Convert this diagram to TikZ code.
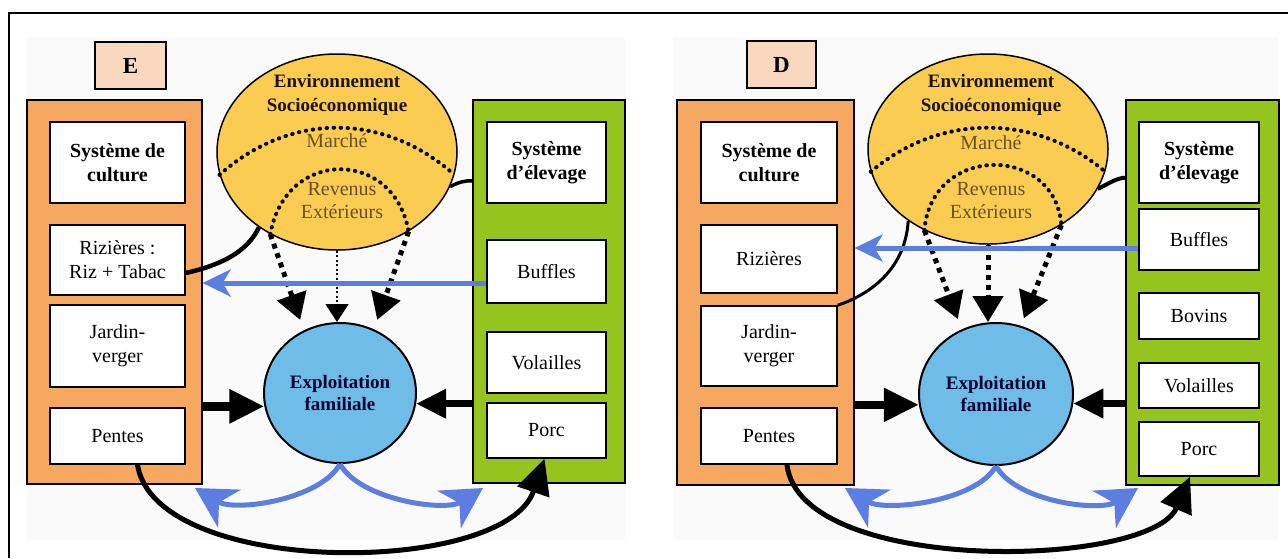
\documentclass[tikz,border=0pt]{standalone}
\usepackage{fontspec}
\setmainfont{Liberation Serif}
\usetikzlibrary{arrows.meta,shapes.geometric}

\definecolor{orangecult}{RGB}{246,168,96}
\definecolor{vertelev}{RGB}{150,196,30}
\definecolor{jauneenv}{RGB}{250,204,82}
\definecolor{bleuexpl}{RGB}{112,188,232}
\definecolor{peche}{RGB}{250,216,192}
\definecolor{bleuflux}{RGB}{92,126,224}
\definecolor{brunmarche}{RGB}{105,80,35}
\definecolor{fondgris}{RGB}{250,250,250}

\begin{document}
\begin{tikzpicture}[x=1pt, y=-1pt,
	boite/.style={draw, line width=1.6pt, fill=white, align=center, inner sep=0pt, font=\fontsize{20}{24}\selectfont},
	boite gras/.style={boite, font=\fontsize{20}{24}\selectfont\bfseries},
	panneau/.style={draw, line width=1.2pt, inner sep=0pt},
	lettre/.style={draw, line width=1.8pt, fill=peche, inner sep=0pt, minimum height=47pt, font=\fontsize{23}{24}\selectfont\bfseries},
	rond/.style={ellipse, draw, inner sep=0pt},
	titre/.style={align=center, text=black!85!brown, font=\fontsize{19}{24}\selectfont\bfseries},
	texte brun/.style={align=center, text=brunmarche, font=\fontsize{20}{23}\selectfont},
	pointille/.style={line width=4pt, line cap=round, dash pattern=on 0.5pt off 6.5pt},
	gros pointille/.style={line width=5pt, dash pattern=on 5pt off 5pt, -{Triangle[length=26pt,width=30pt]}},
	fin pointille/.style={line width=1.8pt, dash pattern=on 2pt off 2.5pt, -{Triangle[length=18pt,width=23pt]}},
	lien/.style={line width=4.5pt},
	entree/.style={line width=#1, -{Triangle[length=35pt,width=32pt]}},
	sortie/.style={line width=#1, -{Triangle[length=30pt,width=28pt]}},
	flux/.style={draw=bleuflux, line width=5pt, -{Stealth[length=28pt,width=27pt,inset=8pt]}},
	flux bas/.style={draw=bleuflux, line width=5pt, -{Stealth[length=40pt,width=44pt,inset=12pt]}},
	retour/.style={line width=5pt, -{Triangle[length=35pt,width=33pt]}}]
	\useasboundingbox (0,0) rectangle (1288,558);
	
	% 背景与外框
	\fill[fondgris] (27,37) rectangle (625,540);
	\fill[fondgris] (673,37) rectangle (1278,540);
	\draw[line width=1.5pt] (9,558) -- (9,13) -- (1288,13);
	
	% ===== E =====
	\node[lettre, minimum width=71pt] (eLettre) at (130.5,65.5) {E};
	\node[panneau, fill=orangecult, minimum width=175pt, minimum height=384pt] (eGauche) at (114.5,292) {};
	\node[panneau, fill=vertelev, minimum width=152pt, minimum height=383pt] (eDroite) at (549,291.5) {};
	
	\node[boite gras, minimum width=135pt, minimum height=81pt] (eCult) at (117.5,162.5) {Système de\\culture};
	\node[boite, minimum width=135pt, minimum height=70pt] (eRiz) at (117.5,260) {Rizières :\\Riz + Tabac};
	\node[boite, minimum width=135pt, minimum height=82pt] (eJard) at (117.5,346) {Jardin-\\verger};
	\node[boite, minimum width=135pt, minimum height=56pt] (ePent) at (117.5,436) {Pentes};
	
	\node[boite gras, minimum width=119pt, minimum height=81pt] (eElev) at (546.5,162.5) {Système\\d’élevage};
	\node[boite, minimum width=119pt, minimum height=63pt] (eBuf) at (546.5,271.5) {Buffles};
	\node[boite, minimum width=119pt, minimum height=61pt] (eVol) at (546.5,362.5) {Volailles};
	\node[boite, minimum width=119pt, minimum height=55pt] (ePorc) at (546.5,430.5) {Porc};
	
	% 社会经济环境
	\node[rond, fill=jauneenv, line width=1.5pt, minimum width=240pt, minimum height=196pt] (eEnv) at (337,152) {};
	\node[titre] (eEnvTxt) at (337,95) {Environnement\\Socioéconomique};
	\node[texte brun] (eMarche) at (337,141) {Marché};
	\node[texte brun] (eRevenus) at (342,201) {Revenus\\Extérieurs};
	\draw[pointille] (eEnv.191) .. controls (290,112) and (384,112) .. (eEnv.349);
	\draw[pointille] (eEnv.231) .. controls (285,148) and (394,148) .. (eEnv.312);
	
	\node[rond, fill=bleuexpl, line width=2pt, minimum width=152pt, minimum height=140pt, align=center,
		text=black!80!blue, font=\fontsize{19}{22}\selectfont\bfseries] (eExpl) at (340,393) {Exploitation\\familiale};
	
	% 连接
	\draw[gros pointille, shorten >=11pt] (eEnv.231) -- (eExpl.120);
	\draw[fin pointille] (eEnv.south) -- (eEnv.south |- eExpl.north);
	\draw[gros pointille, shorten >=10pt] (eEnv.312) -- (eExpl.62);
	
	\draw[lien] ([yshift=-13pt]eRiz.east) .. controls +(35,-8) and +(-12,25) .. (eEnv.224);
	\draw[lien, line width=3.5pt] (eEnv.343) .. controls +(10,-5) and +(-8,0) .. (eDroite.west |- eEnv.346);
	
	\draw[entree=9pt] (eGauche.east |- eExpl.190) -- (eExpl.190);
	\draw[sortie=7pt] (eDroite.west |- eExpl.352) -- (eExpl.352);
	
	\coordinate (eBufG) at ([yshift=-11.5pt]eBuf.west);
	\draw[flux] (eBufG) -- (eBufG -| eGauche.east);
	
	\coordinate (eFluxG) at (195,488);
	\coordinate (eFluxD) at (483,488);
	\draw[flux bas] (eExpl.south) .. controls (320,500) and (235,512) .. (eFluxG);
	\draw[flux bas] (eExpl.south) .. controls (360,500) and (445,512) .. (eFluxD);
	
	\draw[retour] ([xshift=20pt]ePent.south) .. controls +(18,113) and +(-40,118) .. ([xshift=-2pt]ePorc.south);
	
	% ===== D =====
	\node[lettre, minimum width=69pt] (dLettre) at (781.5,64.5) {D};
	\node[panneau, fill=orangecult, minimum width=177pt, minimum height=385pt] (dGauche) at (765.5,292.5) {};
	\node[panneau, fill=vertelev, minimum width=153pt, minimum height=385pt] (dDroite) at (1202.5,292.5) {};
	
	\node[boite gras, minimum width=136pt, minimum height=81pt] (dCult) at (769,162.5) {Système de\\culture};
	\node[boite, minimum width=136pt, minimum height=68pt] (dRiz) at (769,259) {Rizières};
	\node[boite, minimum width=136pt, minimum height=80pt] (dJard) at (769,346) {Jardin-\\verger};
	\node[boite, minimum width=136pt, minimum height=56pt] (dPent) at (769,436) {Pentes};
	
	\node[boite gras, minimum width=120pt, minimum height=81pt] (dElev) at (1199,162.5) {Système\\d’élevage};
	\node[boite, minimum width=120pt, minimum height=61pt] (dBuf) at (1199,239.5) {Buffles};
	\node[boite, minimum width=120pt, minimum height=46pt] (dBov) at (1199,316) {Bovins};
	\node[boite, minimum width=120pt, minimum height=45pt] (dVol) at (1199,385.5) {Volailles};
	\node[boite, minimum width=120pt, minimum height=54pt] (dPorc) at (1199,449) {Porc};
	
	% 社会经济环境
	\node[rond, fill=jauneenv, line width=1.5pt, minimum width=240pt, minimum height=190pt] (dEnv) at (988,149) {};
	\node[titre] (dEnvTxt) at (991,95) {Environnement\\Socioéconomique};
	\node[texte brun] (dMarche) at (991,143) {Marché};
	\node[texte brun] (dRevenus) at (991,201) {Revenus\\Extérieurs};
	\draw[pointille] (dEnv.191) .. controls (940,113) and (1036,113) .. (dEnv.349);
	\draw[pointille] (dEnv.232) .. controls (931,144) and (1055,144) .. (dEnv.314);
	
	\node[rond, fill=bleuexpl, line width=2pt, minimum width=154pt, minimum height=142pt, align=center,
		text=black!80!blue, font=\fontsize{19}{22}\selectfont\bfseries] (dExpl) at (996,394) {Exploitation\\familiale};
	
	% 连接
	\draw[gros pointille, shorten >=11pt] (dEnv.232) -- (dExpl.118);
	\draw[gros pointille] (dEnv.south) -- (dEnv.south |- dExpl.north);
	\draw[gros pointille, shorten >=8pt] (dEnv.314) -- (dExpl.70);
	
	\draw[lien, line width=3pt] (dEnv.222) .. controls +(-3,50) and +(30,-10) .. (dJard.north east);
	\draw[lien, line width=4pt] (dEnv.340) .. controls +(10,-5) and +(-8,0) .. (dDroite.west |- dEnv.346);
	
	\draw[entree=8pt] (dGauche.east |- dExpl.188) -- (dExpl.188);
	\draw[sortie=7pt] (dDroite.west |- dExpl.353) -- (dExpl.353);
	
	\coordinate (dBufG) at ([yshift=-8.5pt]dBuf.west);
	\draw[flux] (dBufG) -- (dBufG -| dGauche.east);
	
	\coordinate (dFluxG) at (845,488);
	\coordinate (dFluxD) at (1138,488);
	\draw[flux bas] (dExpl.south) .. controls (976,502) and (885,512) .. (dFluxG);
	\draw[flux bas] (dExpl.south) .. controls (1016,502) and (1100,512) .. (dFluxD);
	
	\draw[retour] ([xshift=18pt]dPent.south) .. controls +(13,111) and +(-40,92) .. ([xshift=-9pt]dPorc.south);
\end{tikzpicture}
\end{document}
